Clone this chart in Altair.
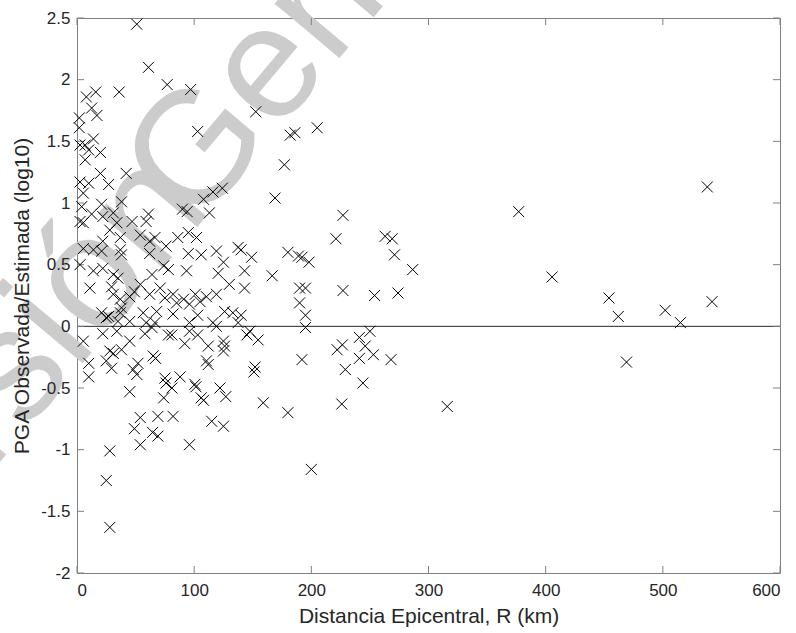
import altair as alt
import pandas as pd

# Distancia epicentral (km)
dist = [
    51, 61, 77, 97, 8, 16, 36, 12.5, 17, 2, 2, 103, 14, 2.6, 7, 10, 20, 7,
    20, 42, 2.6, 10, 27, 5.4, 38, 21, 4, 108, 116, 124, 90, 94, 113, 61, 59, 47,
    12.5, 2.6, 5.4, 31, 22, 34, 28, 54, 62, 66.5, 76, 86, 95, 102, 37, 22, 5.4,
    14, 21, 37, 38, 62, 95, 106, 119, 137.5, 140, 125, 143, 2.6, 14, 22, 31, 35,
    64, 74, 78, 93.5, 120.5, 130, 143, 11, 29.5, 54, 71, 49, 31, 62, 37, 45, 75,
    82, 91, 101, 110.5, 119, 38, 85, 96, 105, 126, 133, 21, 56.5, 68, 82, 103,
    27, 140,
    37, 25, 35, 45, 59, 66.5, 96, 116, 137.5, 22, 34, 58, 64, 78, 81, 96, 103,
    119, 145, 5.4, 45, 92, 112, 125, 126, 125, 28, 38, 31, 25, 29.5, 10, 10, 52,
    48, 51, 65, 67, 110.5, 112, 75, 76, 81, 88, 100.6, 101.5, 45, 74, 106, 108,
    122, 127, 54, 69, 82, 115, 125, 49, 64.5, 69, 54, 96, 28,
    25, 28,
    152.6, 182, 186, 205, 177, 169, 227, 221, 263, 269, 271, 286.5, 149, 180,
    189, 192, 198, 166.6, 190, 195, 227, 254, 274, 190,
    195, 195, 147.5, 154.6, 192, 152, 151, 159, 180, 200, 222, 226.5, 241, 246,
    250, 253, 241, 268, 229, 244, 226,
    377, 405.5, 454, 462, 469, 502, 515, 538, 542, 316,
]

# PGA observada/estimada (log10)
ratio = [
    2.45, 2.10, 1.96, 1.92, 1.86, 1.90, 1.90, 1.77, 1.71, 1.69, 1.61, 1.58, 1.52,
    1.47, 1.47, 1.43, 1.41, 1.35,
    1.24, 1.24, 1.17, 1.16, 1.15, 1.08, 1.01, 0.99, 0.97, 1.03, 1.09, 1.12, 0.95,
    0.93, 0.92, 0.91, 0.85, 0.85, 0.91, 0.85, 0.84, 0.92, 0.89, 0.84, 0.78, 0.74,
    0.69, 0.72, 0.65, 0.72, 0.76, 0.72, 0.72, 0.69, 0.63, 0.62, 0.61, 0.62, 0.58,
    0.59, 0.59, 0.58, 0.61, 0.64, 0.62, 0.52, 0.45, 0.50, 0.45, 0.47, 0.42, 0.39,
    0.42, 0.49, 0.46, 0.45, 0.43, 0.34, 0.31, 0.31, 0.32, 0.34, 0.31, 0.28, 0.26,
    0.26, 0.22, 0.24, 0.23, 0.26, 0.22, 0.26, 0.24, 0.26, 0.15, 0.19, 0.18, 0.20,
    0.12, 0.11, 0.11, 0.11, 0.12, 0.10, 0.09, 0.08, 0.09,
    0.11, 0.07, 0.04, 0.04, 0.03, 0.03, 0.03, 0.03, 0.03, -0.06, -0.04, -0.06,
    -0.01, -0.07, -0.07, -0.04, -0.07, 0.0, -0.07, -0.12, -0.12, -0.14, -0.16,
    -0.12, -0.16, -0.20, -0.20, -0.19, -0.22, -0.28, -0.34, -0.30, -0.41, -0.30,
    -0.35, -0.39, -0.24, -0.26, -0.28, -0.31, -0.42, -0.46, -0.50, -0.41, -0.47,
    -0.49, -0.53, -0.58, -0.58, -0.60, -0.50, -0.57, -0.74, -0.73, -0.73, -0.77,
    -0.81, -0.83, -0.86, -0.89, -0.96, -0.96, -1.01,
    -1.25, -1.63,
    1.74, 1.55, 1.57, 1.61, 1.31, 1.04, 0.90, 0.71, 0.73, 0.71, 0.58, 0.46, 0.56,
    0.60, 0.57, 0.56, 0.52, 0.41, 0.31, 0.31, 0.29, 0.25, 0.27, 0.19,
    0.09, -0.01, -0.04, -0.11, -0.27, -0.33, -0.37, -0.62, -0.70, -1.16, -0.19,
    -0.15, -0.09, -0.16, -0.04, -0.23, -0.26, -0.27, -0.35, -0.46, -0.63,
    0.93, 0.40, 0.23, 0.08, -0.29, 0.13, 0.03, 1.13, 0.20, -0.65,
]

x_ticks = [0, 100, 200, 300, 400, 500, 600]
y_ticks = [-2, -1.5, -1, -0.5, 0, 0.5, 1, 1.5, 2, 2.5]

W, H = 703, 555
FONT = "Liberation Sans"
AX = "#808080"
TXT = "#262626"

df = pd.DataFrame({"R": dist, "PGA": ratio})
xt = pd.DataFrame({"v": x_ticks})
yt = pd.DataFrame({"v": y_ticks})

xs = alt.Scale(domain=[0, 600], nice=False, zero=False)
ys = alt.Scale(domain=[-2, 2.5], nice=False, zero=False)

wm_df = pd.DataFrame({"a": ["Versión"], "b": ["Generada"]})
wm_a = alt.Chart(wm_df).mark_text(
    angle=310, align="right", baseline="alphabetic", font=FONT, fontSize=160,
    color="#cccccc"
).encode(x=alt.value(136), y=alt.value(190), text="a:N")
wm_b = alt.Chart(wm_df).mark_text(
    angle=310, align="left", baseline="alphabetic", font=FONT, fontSize=160,
    color="#cccccc"
).encode(x=alt.value(118), y=alt.value(212), text="b:N")

points = alt.Chart(df).mark_point(
    shape="M-1,-1L1,1M-1,1L1,-1", size=121, filled=False, color="black",
    strokeWidth=1, opacity=1
).encode(
    x=alt.X("R:Q", scale=xs, title="Distancia Epicentral, R (km)",
            axis=alt.Axis(values=x_ticks, grid=False, ticks=False, tickSize=0,
                          domain=False, labelPadding=9, titlePadding=7,
                          zindex=1, labelExpr="'' + datum.value")),
    y=alt.Y("PGA:Q", scale=ys, title="PGA Observada/Estimada (log10)",
            axis=alt.Axis(values=y_ticks, grid=False, ticks=False, tickSize=0,
                          domain=False, labelPadding=7, titlePadding=8,
                          zindex=1, labelExpr="'' + datum.value")),
)

zero = alt.Chart(pd.DataFrame({"z": [0]})).mark_rule(
    color="#262626", strokeWidth=1
).encode(y=alt.Y("z:Q", scale=ys), x=alt.value(0), x2=alt.value(W))

xb = alt.Chart(xt).mark_rule(color=AX, strokeWidth=1).encode(
    x=alt.X("v:Q", scale=xs), y=alt.value(H), y2=alt.value(H - 7))
xtop = alt.Chart(xt).mark_rule(color=AX, strokeWidth=1).encode(
    x=alt.X("v:Q", scale=xs), y=alt.value(0), y2=alt.value(7))
yl = alt.Chart(yt).mark_rule(color=AX, strokeWidth=1).encode(
    y=alt.Y("v:Q", scale=ys), x=alt.value(0), x2=alt.value(7))
yr = alt.Chart(yt).mark_rule(color=AX, strokeWidth=1).encode(
    y=alt.Y("v:Q", scale=ys), x=alt.value(W), x2=alt.value(W - 7))

chart = alt.layer(wm_a, wm_b, zero, xb, xtop, yl, yr, points).properties(
    width=W, height=H,
    autosize=alt.AutoSizeParams(type="none"),
    padding={"left": 77, "top": 18, "right": 16, "bottom": 60},
    background="white",
).configure_view(
    stroke=AX, strokeWidth=1
).configure_axis(
    labelFont=FONT, labelFontSize=17, labelColor=TXT,
    titleFont=FONT, titleFontSize=21, titleColor=TXT, titleFontWeight="normal",
)

chart.save("out.html", embed_options={"renderer": "svg", "actions": False})
